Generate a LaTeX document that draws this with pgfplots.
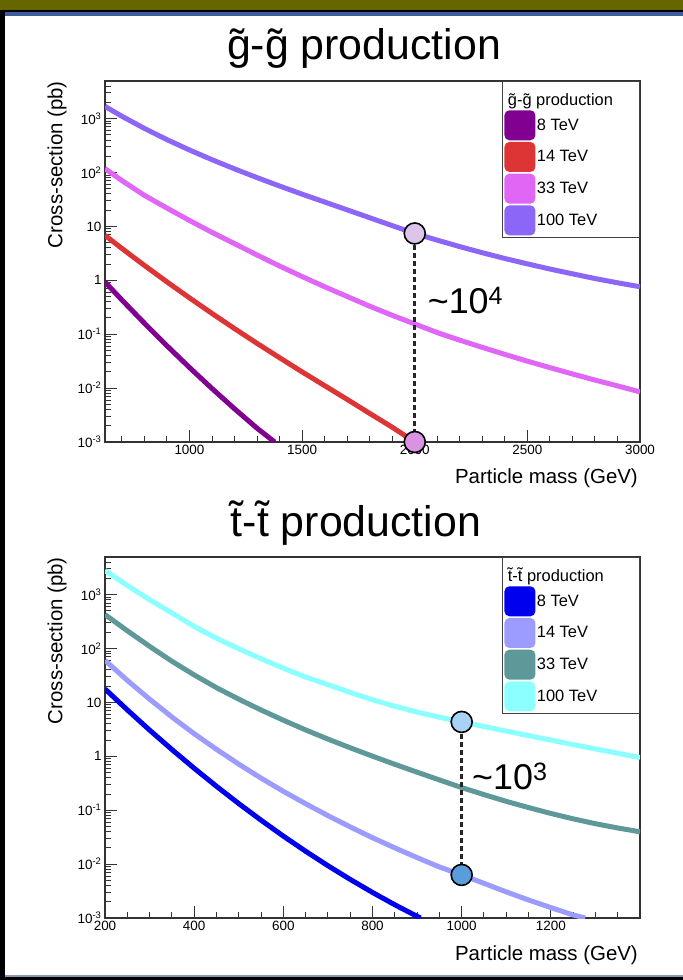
\documentclass[border=0pt]{standalone}
\usepackage{fontspec}
\setmainfont{Liberation Sans}
\usepackage{pgfplots}
\pgfplotsset{compat=1.18}
\definecolor{gA}{HTML}{820091}
\definecolor{gB}{HTML}{DD3535}
\definecolor{gC}{HTML}{E066F6}
\definecolor{gD}{HTML}{8C66F7}
\definecolor{tA}{HTML}{0000EE}
\definecolor{tB}{HTML}{9C9CFF}
\definecolor{tC}{HTML}{5F9898}
\definecolor{tD}{HTML}{8CFFFF}
\definecolor{cirA}{HTML}{DCC4EA}
\definecolor{cirB}{HTML}{DA92E2}
\definecolor{cirC}{HTML}{A9D3F5}
\definecolor{cirD}{HTML}{5A9DDD}
\definecolor{oliveband}{HTML}{666600}
\definecolor{blueband}{HTML}{3D5C9E}
\definecolor{botband}{HTML}{8898B8}
\begin{document}
\begin{tikzpicture}[x=1bp,y=1bp]
\useasboundingbox (0,0) rectangle (683,980);
\fill[black] (0,0) rectangle (683,980);
\fill[oliveband] (0,970) rectangle (683,980);
\fill[blueband] (5,964) rectangle (683,968);
\fill[white] (5,5) rectangle (683,964);
\fill[botband] (5,3) rectangle (683,5);

% ---------------- gluino pair ----------------
\begin{axis}[at={(105bp,538bp)}, anchor=south west,
  scale only axis, width=535bp, height=361bp,
  ymode=log, ymin=1e-3, ymax=5000,
  xmin=625, xmax=3000,
  axis line style={line width=1.2bp, draw=black!80},
  tick align=inside, xtick pos=bottom, ytick pos=left,
  major tick length=12bp, minor tick length=6bp,
  tick style={line width=1bp, black!80},
  ticklabel style={font=\fontsize{13.5}{14}\selectfont},
  xtick={1000,1500,2000,2500,3000}, xticklabels={1000,1500,2000,2500,3000},
  minor xtick={700,800,900,1100,1200,1300,1400,1600,1700,1800,1900,2100,2200,2300,2400,2600,2700,2800,2900},
  ytick={0.001,0.01,0.1,1,10,100,1000},
  yticklabels={10\textsuperscript{-3},10\textsuperscript{-2},10\textsuperscript{-1},1,10,10\textsuperscript{2},10\textsuperscript{3}},
  minor ytick={0.002,0.003,0.004,0.005,0.006,0.007,0.008,0.009,0.02,0.03,0.04,0.05,0.06,0.07,0.08,0.09,0.2,0.3,0.4,0.5,0.6,0.7,0.8,0.9,2,3,4,5,6,7,8,9,20,30,40,50,60,70,80,90,200,300,400,500,600,700,800,900,2000,3000,4000},
  ylabel={Cross-section (pb)},
  ylabel style={at={(axis description cs:-0.0897,1.0)}, anchor=east, inner sep=0pt, font=\fontsize{20.5}{21}\selectfont},
  xlabel={Particle mass (GeV)},
  xlabel style={at={(rel axis cs:1,0)}, anchor=base east, yshift=-42bp, xshift=-2bp, inner sep=0pt, font=\fontsize{20.5}{21}\selectfont},
  clip mode=individual,
  legend style={at={(rel axis cs:1,1)}, anchor=north east, draw=black!75, line width=1.2bp, fill=white,
    font=\fontsize{16.5}{17}\selectfont, inner xsep=2bp, inner ysep=2bp, row sep=1.7bp,
    nodes={inner sep=1.5bp}},
  legend cell align=left,
  legend image code/.code={\fill[rounded corners=3bp] (0bp,-12.5bp) rectangle (26bp,12.5bp);},
  ]
\addlegendimage{empty legend}
\addlegendentry{\hspace*{-29bp}\rule[-5.3bp]{0pt}{25.8bp}\makebox[128bp][l]{\~g-\~g production}}
\addplot[gA, line width=5bp] coordinates {(625,0.931)(700,0.432)(800,0.160)(900,0.0610)(1000,0.0241)(1100,0.00981)(1200,0.00413)(1300,0.00180)(1378,0.00100)};
\addlegendentry{8 TeV}
\addplot[gB, line width=5bp] coordinates {(625,6.84)(700,3.90)(800,1.89)(900,0.935)(1000,0.472)(1100,0.243)(1200,0.127)(1300,0.0676)(1400,0.0366)(1500,0.0200)(1600,0.0111)(1700,0.00617)(1800,0.00339)(1900,0.00188)(2000,0.00100)};
\addlegendentry{14 TeV}
\addplot[gC, line width=5bp] coordinates {(625,118)(700,71.0)(800,37.7)(900,21.9)(1000,12.9)(1100,7.76)(1200,4.79)(1300,2.95)(1400,1.84)(1500,1.175)(1600,0.759)(1700,0.501)(1800,0.331)(1900,0.224)(2000,0.155)(2100,0.107)(2200,0.0776)(2300,0.0569)(2400,0.0422)(2500,0.0316)(2600,0.0240)(2700,0.0183)(2800,0.0141)(2900,0.0110)(3000,0.0085)};
\addlegendentry{33 TeV}
\addplot[gD, line width=5bp] coordinates {(625,1690)(700,1107)(800,659)(900,408)(1000,262)(1100,173)(1200,117)(1300,80.5)(1400,56.2)(1500,39.7)(1600,28.4)(1700,20.3)(1800,14.5)(1900,10.35)(2000,7.41)(2100,5.56)(2200,4.22)(2300,3.25)(2400,2.54)(2500,2.02)(2600,1.62)(2700,1.32)(2800,1.08)(2900,0.90)(3000,0.76)};
\addlegendentry{100 TeV}
\addplot[forget plot, draw=black!85, line width=2.6bp, dash pattern=on 5bp off 3bp] coordinates {(2000,0.001)(2000,7.41)};
\addplot[forget plot, only marks, mark=*, mark size=10.5bp, mark options={fill=cirA, draw=black, line width=1.6bp}] coordinates {(2000,7.41)};
\addplot[forget plot, only marks, mark=*, mark size=10.5bp, mark options={fill=cirB, draw=black, line width=1.6bp}] coordinates {(2000,0.001)};
\node[anchor=base west, inner sep=0pt, font=\fontsize{36}{36}\selectfont] at (rel axis cs:0.603,0.357) {\textasciitilde10\textsuperscript{4}};
\end{axis}

% ---------------- stop pair ----------------
\begin{axis}[at={(105bp,62bp)}, anchor=south west,
  scale only axis, width=535bp, height=361bp,
  ymode=log, ymin=1e-3, ymax=5000,
  xmin=200, xmax=1400,
  axis line style={line width=1.2bp, draw=black!80},
  tick align=inside, xtick pos=bottom, ytick pos=left,
  major tick length=12bp, minor tick length=6bp,
  tick style={line width=1bp, black!80},
  ticklabel style={font=\fontsize{13.5}{14}\selectfont},
  xtick={200,400,600,800,1000,1200}, xticklabels={200,400,600,800,1000,1200},
  minor xtick={250,300,350,450,500,550,650,700,750,850,900,950,1050,1100,1150,1250,1300,1350},
  ytick={0.001,0.01,0.1,1,10,100,1000},
  yticklabels={10\textsuperscript{-3},10\textsuperscript{-2},10\textsuperscript{-1},1,10,10\textsuperscript{2},10\textsuperscript{3}},
  minor ytick={0.002,0.003,0.004,0.005,0.006,0.007,0.008,0.009,0.02,0.03,0.04,0.05,0.06,0.07,0.08,0.09,0.2,0.3,0.4,0.5,0.6,0.7,0.8,0.9,2,3,4,5,6,7,8,9,20,30,40,50,60,70,80,90,200,300,400,500,600,700,800,900,2000,3000,4000},
  ylabel={Cross-section (pb)},
  ylabel style={at={(axis description cs:-0.0897,1.0)}, anchor=east, inner sep=0pt, font=\fontsize{20.5}{21}\selectfont},
  xlabel={Particle mass (GeV)},
  xlabel style={at={(rel axis cs:1,0)}, anchor=base east, yshift=-42bp, xshift=-2bp, inner sep=0pt, font=\fontsize{20.5}{21}\selectfont},
  clip mode=individual,
  legend style={at={(rel axis cs:1,1)}, anchor=north east, draw=black!75, line width=1.2bp, fill=white,
    font=\fontsize{16.5}{17}\selectfont, inner xsep=2bp, inner ysep=2bp, row sep=1.7bp,
    nodes={inner sep=1.5bp}},
  legend cell align=left,
  legend image code/.code={\fill[rounded corners=3bp] (0bp,-12.5bp) rectangle (26bp,12.5bp);},
  ]
\addlegendimage{empty legend}
\addlegendentry{\hspace*{-29bp}\rule[-5.3bp]{0pt}{25.8bp}\makebox[128bp][l]{\~t-\~t production}}
\addplot[tA, line width=5bp] coordinates {(200,17.8)(250,7.28)(300,3.07)(350,1.338)(400,0.601)(450,0.278)(500,0.1327)(550,0.0653)(600,0.0331)(650,0.01732)(700,0.00934)(750,0.0052)(800,0.00298)(850,0.00176)(900,0.001074)(908,0.00100)};
\addlegendentry{8 TeV}
\addplot[tB, line width=5bp] coordinates {(200,60.3)(250,25.7)(300,11.5)(350,5.37)(400,2.63)(450,1.35)(500,0.716)(550,0.394)(600,0.224)(650,0.132)(700,0.0794)(750,0.0490)(800,0.0309)(850,0.0200)(900,0.0132)(950,0.00886)(1000,0.0063)(1050,0.0044)(1100,0.00305)(1150,0.00216)(1200,0.00156)(1250,0.00114)(1277,0.00100)};
\addlegendentry{14 TeV}
\addplot[tC, line width=5bp] coordinates {(200,427)(250,214)(300,110)(350,58.2)(400,32.4)(450,18.8)(500,11.5)(550,7.24)(600,4.68)(650,3.09)(700,2.09)(750,1.44)(800,1.007)(850,0.711)(900,0.508)(950,0.365)(1000,0.263)(1050,0.195)(1100,0.146)(1150,0.112)(1200,0.0871)(1250,0.0692)(1300,0.0562)(1350,0.0468)(1400,0.0398)};
\addlegendentry{33 TeV}
\addplot[tD, line width=5bp] coordinates {(200,2818)(250,1479)(300,804)(350,457)(400,257)(450,155)(500,98.9)(550,64.6)(600,43.2)(650,29.5)(700,21.4)(750,15.3)(800,11.2)(850,8.51)(900,6.61)(950,5.31)(1000,4.35)(1050,3.57)(1100,2.94)(1150,2.42)(1200,2.00)(1250,1.65)(1300,1.37)(1350,1.14)(1400,0.946)};
\addlegendentry{100 TeV}
\addplot[forget plot, draw=black!85, line width=2.6bp, dash pattern=on 5bp off 3bp] coordinates {(1000,0.0063)(1000,4.35)};
\addplot[forget plot, only marks, mark=*, mark size=10.5bp, mark options={fill=cirC, draw=black, line width=1.6bp}] coordinates {(1000,4.35)};
\addplot[forget plot, only marks, mark=*, mark size=10.5bp, mark options={fill=cirD, draw=black, line width=1.6bp}] coordinates {(1000,0.0063)};
\node[anchor=base west, inner sep=0pt, font=\fontsize{36}{36}\selectfont] at (rel axis cs:0.686,0.357) {\textasciitilde10\textsuperscript{3}};
\end{axis}

\node[anchor=base, inner sep=0pt, font=\fontsize{43}{43}\selectfont] at (364,920) {\~g-\~g production};
\node[anchor=base, inner sep=0pt, font=\fontsize{43}{43}\selectfont] at (356,443) {\~t-\~t production};
\end{tikzpicture}
\end{document}
